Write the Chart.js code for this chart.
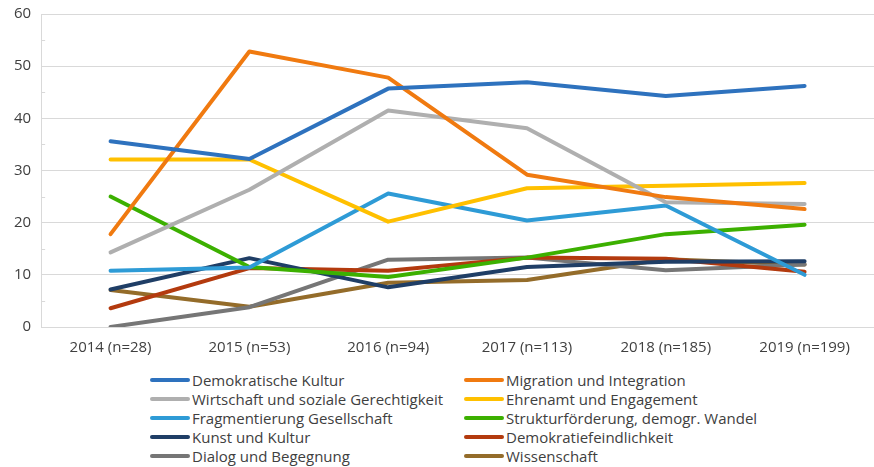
<!DOCTYPE html>
<html>
<head>
<meta charset="utf-8">
<script src="https://cdn.jsdelivr.net/npm/chart.js@4"></script>
<style>
  html, body { margin: 0; padding: 0; background: #fff; }
  #wrap { position: relative; width: 874px; height: 467px; overflow: hidden; }
  #chartBox { position: absolute; left: 0; top: -5px; width: 874px; height: 366px; }
  #legend {
    position: absolute; left: 150px; top: 370px;
    display: grid; grid-template-columns: 314px 300px; grid-auto-rows: 19.2px;
    font-family: "Open Sans", sans-serif; font-size: 15px; color: #404040;
  }
  .item { display: flex; align-items: center; white-space: nowrap; }
  .swatch { width: 40px; height: 4px; border-radius: 2px; margin-right: 2px; }
</style>
</head>
<body>
<div id="wrap">
  <div id="chartBox"><canvas id="chartCanvas"></canvas></div>
  <div id="legend"></div>
</div>
<script>
  // ── Data ──
  var years = ['2014 (n=28)', '2015 (n=53)', '2016 (n=94)', '2017 (n=113)', '2018 (n=185)', '2019 (n=199)'];

  var demokratischeKultur   = [35.6, 32.2, 45.7, 46.9, 44.3, 46.2];
  var migration             = [17.8, 52.8, 47.8, 29.2, 24.9, 22.6];
  var wirtschaft            = [14.3, 26.3, 41.5, 38.1, 23.9, 23.6];
  var ehrenamt              = [32.1, 32.1, 20.2, 26.6, 27.1, 27.6];
  var fragmentierung        = [10.8, 11.4, 25.6, 20.4, 23.3, 10.0];
  var strukturfoerderung    = [25.0, 11.5, 9.6, 13.3, 17.8, 19.6];
  var kunst                 = [7.2, 13.2, 7.6, 11.5, 12.5, 12.6];
  var demokratiefeindlich   = [3.6, 11.3, 10.8, 13.3, 13.1, 10.6];
  var dialog                = [0.0, 3.8, 12.9, 13.3, 10.9, 12.0];
  var wissenschaft          = [7.1, 3.9, 8.5, 9.0, 13.0, 12.0];

  var seriesLabels = [
    'Demokratische Kultur', 'Migration und Integration',
    'Wirtschaft und soziale Gerechtigkeit', 'Ehrenamt und Engagement',
    'Fragmentierung Gesellschaft', 'Strukturförderung, demogr. Wandel',
    'Kunst und Kultur', 'Demokratiefeindlichkeit',
    'Dialog und Begegnung', 'Wissenschaft'
  ];
  var seriesValues = [
    demokratischeKultur, migration, wirtschaft, ehrenamt, fragmentierung,
    strukturfoerderung, kunst, demokratiefeindlich, dialog, wissenschaft
  ];
  var seriesColors = [
    '#2E72BE', '#F07A10', '#AFAFAF', '#FFC000', '#2E9BD6',
    '#3CB000', '#1F3E66', '#B33A0E', '#767676', '#946C2A'
  ];

  var yTicks = [0, 10, 20, 30, 40, 50, 60];

  // ── Datasets ──
  var datasets = seriesLabels.map(function (label, i) {
    return {
      label: label,
      data: seriesValues[i],
      borderColor: seriesColors[i],
      backgroundColor: seriesColors[i],
      borderWidth: 4,
      borderCapStyle: 'round',
      borderJoinStyle: 'round',
      pointRadius: 0,
      tension: 0,
      fill: false
    };
  });

  // small inner tick marks at the half steps of the value axis
  var minorTicks = {
    id: 'minorTicks',
    afterDraw: function (chart) {
      var y = chart.scales.y;
      var ctx = chart.ctx;
      ctx.save();
      ctx.strokeStyle = '#D9D9D9';
      ctx.lineWidth = 1;
      for (var v = 5; v < 60; v += 10) {
        var py = Math.round(y.getPixelForValue(v)) + 0.5;
        ctx.beginPath();
        ctx.moveTo(y.right, py);
        ctx.lineTo(y.right + 4, py);
        ctx.stroke();
      }
      ctx.restore();
    }
  };

  new Chart(document.getElementById('chartCanvas').getContext('2d'), {
    type: 'line',
    data: { labels: years, datasets: datasets },
    options: {
      responsive: true,
      maintainAspectRatio: false,
      animation: false,
      layout: { padding: { left: 4, right: 0, top: 1, bottom: 0 } },
      plugins: { legend: { display: false }, tooltip: { enabled: false } },
      scales: {
        x: {
          offset: true,
          grid: { display: false },
          border: { display: false },
          ticks: { color: '#404040', font: { family: 'Open Sans', size: 15 }, padding: 4, maxRotation: 0 }
        },
        y: {
          min: 0,
          max: 60,
          afterBuildTicks: function (scale) {
            scale.ticks = yTicks.map(function (v) { return { value: v }; });
          },
          grid: { color: '#D9D9D9', lineWidth: 1, drawTicks: false },
          border: { display: true, color: '#D9D9D9' },
          ticks: { color: '#404040', font: { family: 'Open Sans', size: 15 }, padding: 10 }
        }
      }
    },
    plugins: [minorTicks]
  });

  // ── Legend ──
  var legendEl = document.getElementById('legend');
  seriesLabels.forEach(function (label, i) {
    var item = document.createElement('div');
    item.className = 'item';
    var sw = document.createElement('span');
    sw.className = 'swatch';
    sw.style.background = seriesColors[i];
    var txt = document.createElement('span');
    txt.textContent = label;
    item.appendChild(sw);
    item.appendChild(txt);
    legendEl.appendChild(item);
  });
</script>
</body>
</html>
